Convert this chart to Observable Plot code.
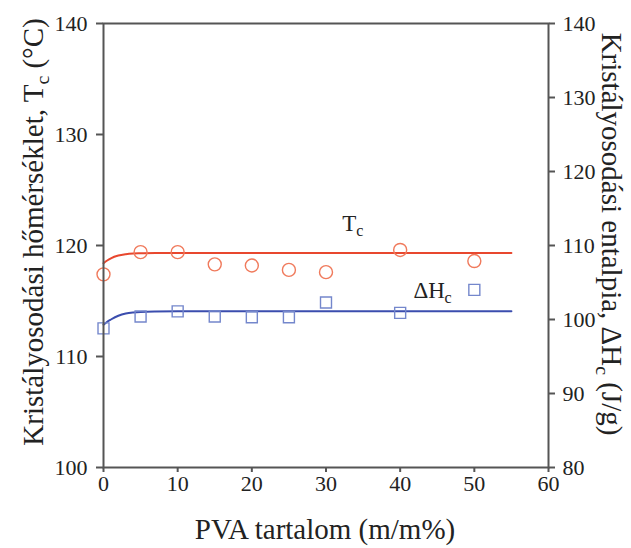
<!DOCTYPE html>
<html>
<head>
<meta charset="utf-8">
<script src="https://cdn.jsdelivr.net/npm/d3@7"></script>
<script src="https://cdn.jsdelivr.net/npm/@observablehq/plot@0.6"></script>
<style>
  html, body { margin: 0; padding: 0; background: white; }
  #chart svg { display: block; }
</style>
</head>
<body>
<div id="chart"></div>
<script>
// ---- data ----
const pvaContent = [0, 5, 10, 15, 20, 25, 30, 40, 50];
const tcValues   = [117.4, 119.4, 119.4, 118.3, 118.2, 117.8, 117.6, 119.6, 118.6];   // °C (left axis)
const dhValues   = [98.8, 100.4, 101.1, 100.4, 100.3, 100.3, 102.3, 100.9, 104.0];    // J/g (right axis)

const fitX   = [0, 0.5, 1, 2, 3, 4, 5, 7, 10, 20, 30, 40, 50, 55];
const tcFit  = [118.4, 118.65, 118.85, 119.1, 119.22, 119.28, 119.3, 119.32, 119.33, 119.33, 119.33, 119.33, 119.33, 119.33];
const dhFit  = [99.3, 99.7, 100.0, 100.5, 100.8, 100.95, 101.03, 101.08, 101.1, 101.1, 101.1, 101.1, 101.1, 101.1];

const xTicks      = [0, 10, 20, 30, 40, 50, 60];
const leftTicks   = [100, 110, 120, 130, 140];
const rightTicks  = [80, 90, 100, 110, 120, 130, 140];
const leftDomain  = [100, 140];
const rightDomain = [80, 140];

// map a right-axis value (J/g) onto the left (°C) scale
const toLeft = v => leftDomain[0] + (v - rightDomain[0]) * (leftDomain[1] - leftDomain[0]) / (rightDomain[1] - rightDomain[0]);
const toRight = v => rightDomain[0] + (v - leftDomain[0]) * (rightDomain[1] - rightDomain[0]) / (leftDomain[1] - leftDomain[0]);

const tcPoints = pvaContent.map((x, i) => ({x, y: tcValues[i]}));
const dhPoints = pvaContent.map((x, i) => ({x, y: dhValues[i]}));
const tcCurve  = fitX.map((x, i) => ({x, y: tcFit[i]}));
const dhCurve  = fitX.map((x, i) => ({x, y: dhFit[i]}));

const axisColor = "#555";
const tcLine = "#e8472e", tcDot = "#f07a5c";
const dhLine = "#3b4dae", dhDot = "#7487cc";
const serif = "'Liberation Serif', 'Times New Roman', serif";

const plot = Plot.plot({
  width: 631,
  height: 548,
  marginLeft: 103,
  marginRight: 83,
  marginTop: 23,
  marginBottom: 81,
  style: {fontFamily: serif, fontSize: "22px", color: "#222", background: "white", overflow: "visible"},
  x: {domain: [0, 60]},
  y: {domain: leftDomain},
  marks: [
    Plot.line(tcCurve, {x: "x", y: "y", stroke: tcLine, strokeWidth: 2, curve: "monotone-x"}),
    Plot.line(dhCurve, {x: "x", y: d => toLeft(d.y), stroke: dhLine, strokeWidth: 2, curve: "monotone-x"}),
    Plot.dot(tcPoints, {x: "x", y: "y", r: 6.5, stroke: tcDot, strokeWidth: 1.4, fill: "none"}),
    Plot.dot(dhPoints, {x: "x", y: d => toLeft(d.y), symbol: "square", r: 6.2, stroke: dhDot, strokeWidth: 1.4, fill: "none"}),
    // series labels
    Plot.text(["T"], {x: 32.2, y: 121.3, text: d => d, textAnchor: "start", lineAnchor: "bottom", fontSize: 23, fill: "#222"}),
    Plot.text(["c"], {x: 32.2, y: 121.3, text: d => d, textAnchor: "start", lineAnchor: "bottom", fontSize: 16, dx: 14, dy: 5, fill: "#222"}),
    Plot.text(["ΔH"], {x: 41.8, y: 115.3, text: d => d, textAnchor: "start", lineAnchor: "bottom", fontSize: 23, fill: "#222"}),
    Plot.text(["c"], {x: 41.8, y: 115.3, text: d => d, textAnchor: "start", lineAnchor: "bottom", fontSize: 16, dx: 31, dy: 5, fill: "#222"}),
    Plot.frame({stroke: axisColor, strokeWidth: 2}),
    Plot.axisX({ticks: xTicks, tickSize: 5, tickPadding: 3, label: null, stroke: axisColor, strokeWidth: 2, tickFormat: d => d}),
    Plot.axisY({ticks: leftTicks, tickSize: 7, tickPadding: 9, label: null, stroke: axisColor, strokeWidth: 2, tickFormat: d => d}),
    Plot.axisY({anchor: "right", ticks: rightTicks.map(toLeft), tickSize: 6, tickPadding: 8, label: null, stroke: axisColor, strokeWidth: 2,
                tickFormat: d => Math.round(toRight(d))})
  ]
});

document.getElementById("chart").appendChild(plot);

// axis titles (with subscripts)
const svg = d3.select(plot);
const titleSize = 29;

function addTitle(transform, parts, anchor) {
  const t = svg.append("text")
    .attr("transform", transform)
    .attr("text-anchor", anchor)
    .attr("font-family", serif)
    .attr("font-size", titleSize)
    .attr("fill", "#222");
  parts.forEach(p => {
    const s = t.append("tspan").text(p.text);
    if (p.sub) s.attr("font-size", titleSize * 0.68).attr("dy", "0.28em");
    if (p.after) s.attr("dy", "-0.19em");
  });
}

addTitle("translate(325,539)", [{text: "PVA tartalom (m/m%)"}], "middle");
addTitle("translate(43,232) rotate(-90)", [
  {text: "Kristályosodási hőmérséklet, T"},
  {text: "c", sub: true},
  {text: " (°C)", after: true}
], "middle");
addTitle("translate(602,234) rotate(90)", [
  {text: "Kristályosodási entalpia, ΔH"},
  {text: "c", sub: true},
  {text: " (J/g)", after: true}
], "middle");
</script>
</body>
</html>
